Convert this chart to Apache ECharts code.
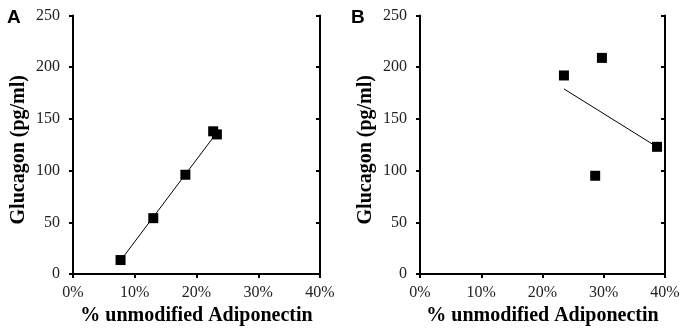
<!DOCTYPE html>
<html><head><meta charset="utf-8">
<script src="https://cdn.jsdelivr.net/npm/echarts@6/dist/echarts.min.js"></script>
<style>html,body{margin:0;padding:0;background:#fff}#c{width:686px;height:332px}</style>
</head><body><div id="c"></div>
<script>
// Panel A data (x: % unmodified Adiponectin, y: Glucagon pg/ml)
const aX = [7.7, 13.0, 18.2, 22.7, 23.3];
const aY = [13.5, 54, 96, 138, 135];
const aTrendX = [7.7, 23.2];
const aTrendY = [13, 136];
// Panel B data
const bX = [23.5, 29.7, 28.6, 38.7];
const bY = [192, 209, 95, 123];
const bTrendX = [23.5, 38.4];
const bTrendY = [179, 124];
// axes
const xMin = 0, xMax = 40, xStep = 10;
const yMin = 0, yMax = 250, yStep = 50;
const panelLabels = ['A', 'B'];
const xTitle = '% unmodified Adiponectin';
const yTitle = 'Glucagon (pg/ml)';

const zip = (xs, ys) => xs.map((x, i) => [x, ys[i]]);
const serif = 'Liberation Serif';
const lineStyle = { color: '#000', width: 2 };

function xAxis(gi) {
  return {
    type: 'value', gridIndex: gi, min: xMin, max: xMax, interval: xStep,
    name: xTitle, nameLocation: 'middle', nameGap: 29,
    nameTextStyle: { fontFamily: serif, fontWeight: 'bold', fontSize: 20, color: '#000' },
    axisLine: { show: true, lineStyle },
    axisTick: { show: true, length: 4, lineStyle },
    axisLabel: { formatter: '{value}%', fontFamily: serif, fontSize: 16, color: '#222', margin: 11 },
    splitLine: { show: false }
  };
}
function yAxisL(gi) {
  return {
    type: 'value', gridIndex: gi, min: yMin, max: yMax, interval: yStep,
    name: yTitle, nameLocation: 'middle', nameGap: 44, nameRotate: 90,
    nameTextStyle: { fontFamily: serif, fontWeight: 'bold', fontSize: 20, color: '#000', padding: [0, 10, 0, 0] },
    axisLine: { show: true, lineStyle },
    axisTick: { show: true, length: 4, lineStyle },
    axisLabel: { fontFamily: serif, fontSize: 16, color: '#222', margin: 13 },
    splitLine: { show: false }
  };
}
function yAxisR(gi) {
  return {
    type: 'value', gridIndex: gi, min: yMin, max: yMax, interval: yStep, position: 'right',
    axisLine: { show: true, lineStyle },
    axisTick: { show: true, inside: true, length: 4, lineStyle },
    axisLabel: { show: false },
    splitLine: { show: false }
  };
}
function scatter(xi, yi, d) {
  return { type: 'scatter', xAxisIndex: xi, yAxisIndex: yi, data: d, symbol: 'rect', symbolSize: 10,
    itemStyle: { color: '#000', opacity: 1 }, z: 3 };
}
function trend(xi, yi, d) {
  return { type: 'line', xAxisIndex: xi, yAxisIndex: yi, data: d, showSymbol: false, symbol: 'none',
    lineStyle: { color: '#000', width: 1 }, z: 2 };
}

const chart = echarts.init(document.getElementById('c'), null, { renderer: 'canvas' });
chart.setOption({
  animation: false,
  backgroundColor: '#fff',
  title: [
    { text: panelLabels[0], left: 2, top: 3, textStyle: { fontFamily: 'Liberation Sans', fontWeight: 'bold', fontSize: 19, color: '#000' } },
    { text: panelLabels[1], left: 346, top: 3, textStyle: { fontFamily: 'Liberation Sans', fontWeight: 'bold', fontSize: 19, color: '#000' } }
  ],
  grid: [
    { left: 73, right: 366, top: 15.5, bottom: 58, containLabel: false },
    { left: 420, right: 21, top: 15.5, bottom: 58, containLabel: false }
  ],
  xAxis: [xAxis(0), xAxis(1)],
  yAxis: [yAxisL(0), yAxisR(0), yAxisL(1), yAxisR(1)],
  series: [
    trend(0, 0, zip(aTrendX, aTrendY)),
    scatter(0, 0, zip(aX, aY)),
    trend(1, 2, zip(bTrendX, bTrendY)),
    scatter(1, 2, zip(bX, bY))
  ]
});
</script></body></html>
